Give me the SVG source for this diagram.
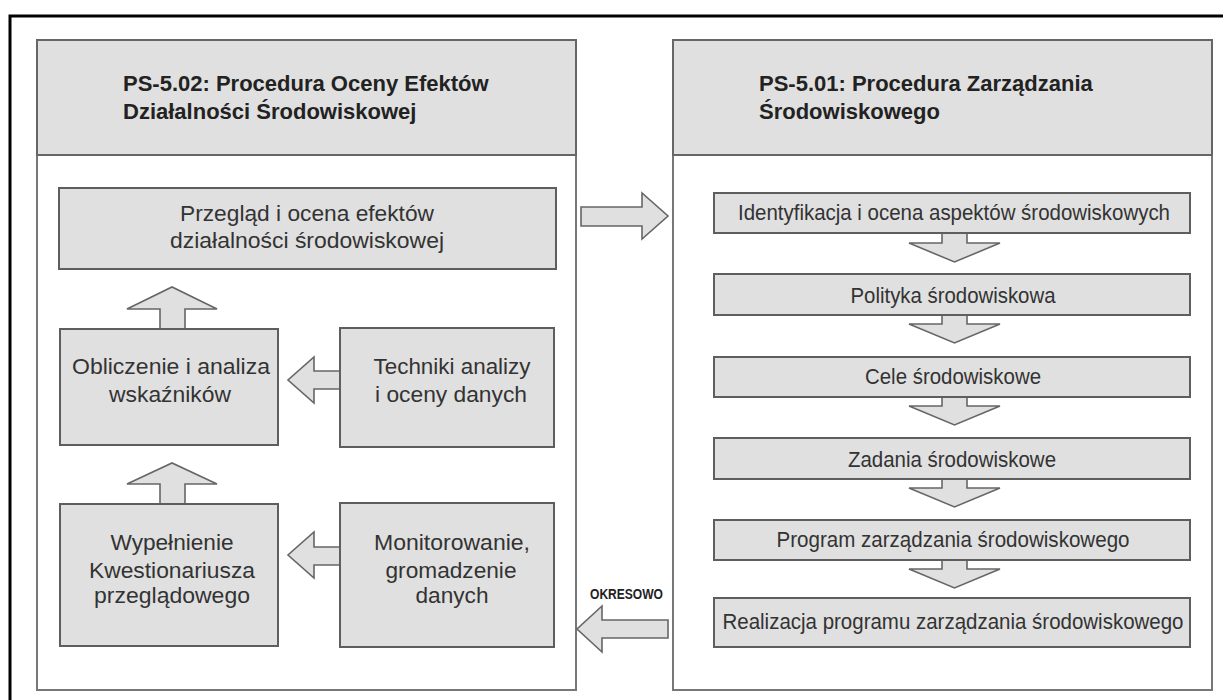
<svg xmlns="http://www.w3.org/2000/svg" width="1223" height="700" viewBox="0 0 1223 700">
<style>
.frame{fill:none;stroke:#000;stroke-width:3}
.panel{fill:#fff;stroke:#777;stroke-width:2}
.head{fill:#e0e0e0;stroke:#666;stroke-width:2}
.box{fill:#e0e0e0;stroke:#5e5e5e;stroke-width:2}
.arr{fill:#e0e0e0;stroke:#666;stroke-width:1.6;stroke-linejoin:miter}
.ht{font-family:"Liberation Sans",Arial,sans-serif;font-weight:bold;font-size:22px;fill:#222}
.t{font-family:"Liberation Sans",Arial,sans-serif;font-size:22px;fill:#333;text-anchor:middle}
.lab{font-family:"Liberation Sans",Arial,sans-serif;font-weight:bold;font-size:14px;fill:#222}
</style>
<rect width="1223" height="700" fill="#fff"/>
<rect class="frame" x="10" y="16" width="1250" height="720"/>

<g id="panel-left">
<rect class="panel" x="37" y="40" width="539" height="650"/>
<rect class="head" x="37" y="40" width="539" height="115"/>
<text class="ht" x="123" y="91">PS-5.02: Procedura Oceny Efektów</text>
<text class="ht" x="123" y="119">Działalności Środowiskowej</text>
</g>
<g id="panel-right">
<rect class="panel" x="673" y="40" width="539" height="650"/>
<rect class="head" x="673" y="40" width="539" height="115"/>
<text class="ht" x="759" y="91">PS-5.01: Procedura Zarządzania</text>
<text class="ht" x="759" y="119">Środowiskowego</text>
</g>

<g id="connectors">
<polygon class="arr" points="160,329 160,309 127,309 172,287 217,309 185,309 185,329"/>
<polygon class="arr" points="160,504 160,484 127,484 172,463 217,484 185,484 185,504"/>
<polygon class="arr" points="340,371 314,371 314,357 288,380 314,403 314,389 340,389"/>
<polygon class="arr" points="340,547 314,547 314,532 288,555 314,578 314,565 340,565"/>
<polygon class="arr" points="581,207 642,207 642,193 668,216 642,239 642,226 581,226 "/>
<polygon class="arr" points="668,620 602,620 602,606 577,629 602,652 602,638 668,638"/>
<polygon class="arr" points="942,233 942,243 909,243 954.5,262 1000,243 967,243 967,233"/>
<polygon class="arr" points="942,315 942,324 909,324 954.5,343 1000,324 967,324 967,315"/>
<polygon class="arr" points="942,397 942,406 909,406 954.5,425 1000,406 967,406 967,397"/>
<polygon class="arr" points="942,479 942,488 909,488 954.5,507 1000,488 967,488 967,479"/>
<polygon class="arr" points="942,560 942,569 909,569 954.5,588 1000,569 967,569 967,560"/>
<text class="lab" x="590" y="599" textLength="73" lengthAdjust="spacingAndGlyphs">OKRESOWO</text>
</g>

<g id="przeglad">
<rect class="box" x="59" y="188" width="497" height="81"/>
<text class="t" x="307" y="221" textLength="254" lengthAdjust="spacingAndGlyphs">Przegląd i ocena efektów</text>
<text class="t" x="307" y="248" textLength="274" lengthAdjust="spacingAndGlyphs">działalności środowiskowej</text>
</g>
<g id="obliczenie">
<rect class="box" x="60" y="329" width="218" height="116"/>
<text class="t" x="171" y="374" textLength="198" lengthAdjust="spacingAndGlyphs">Obliczenie i analiza</text>
<text class="t" x="170" y="402" textLength="122" lengthAdjust="spacingAndGlyphs">wskaźników</text>
</g>
<g id="techniki">
<rect class="box" x="340" y="328" width="214" height="119"/>
<text class="t" x="452" y="374" textLength="157" lengthAdjust="spacingAndGlyphs">Techniki analizy</text>
<text class="t" x="451" y="402" textLength="152" lengthAdjust="spacingAndGlyphs">i oceny danych</text>
</g>
<g id="wypelnienie">
<rect class="box" x="60" y="504" width="218" height="142"/>
<text class="t" x="172" y="550" textLength="123" lengthAdjust="spacingAndGlyphs">Wypełnienie</text>
<text class="t" x="172" y="578" textLength="166" lengthAdjust="spacingAndGlyphs">Kwestionariusza</text>
<text class="t" x="172" y="603" textLength="156" lengthAdjust="spacingAndGlyphs">przeglądowego</text>
</g>
<g id="monitorowanie">
<rect class="box" x="340" y="503" width="214" height="144"/>
<text class="t" x="452" y="550" textLength="156" lengthAdjust="spacingAndGlyphs">Monitorowanie,</text>
<text class="t" x="451" y="578" textLength="131" lengthAdjust="spacingAndGlyphs">gromadzenie</text>
<text class="t" x="452" y="603" textLength="73" lengthAdjust="spacingAndGlyphs">danych</text>
</g>

<g id="identyfikacja">
<rect class="box" x="714" y="193" width="476" height="40"/>
<text class="t" x="954" y="220" textLength="432" lengthAdjust="spacingAndGlyphs">Identyfikacja i ocena aspektów środowiskowych</text>
</g>
<g id="polityka">
<rect class="box" x="714" y="274" width="476" height="41"/>
<text class="t" x="953" y="303" textLength="205" lengthAdjust="spacingAndGlyphs">Polityka środowiskowa</text>
</g>
<g id="cele">
<rect class="box" x="714" y="357" width="476" height="40"/>
<text class="t" x="953" y="384" textLength="176" lengthAdjust="spacingAndGlyphs">Cele środowiskowe</text>
</g>
<g id="zadania">
<rect class="box" x="714" y="438" width="476" height="41"/>
<text class="t" x="952" y="467" textLength="208" lengthAdjust="spacingAndGlyphs">Zadania środowiskowe</text>
</g>
<g id="program">
<rect class="box" x="714" y="520" width="476" height="40"/>
<text class="t" x="953" y="547" textLength="353" lengthAdjust="spacingAndGlyphs">Program zarządzania środowiskowego</text>
</g>
<g id="realizacja">
<rect class="box" x="714" y="598" width="476" height="49"/>
<text class="t" x="953" y="629" textLength="461" lengthAdjust="spacingAndGlyphs">Realizacja programu zarządzania środowiskowego</text>
</g>
</svg>
